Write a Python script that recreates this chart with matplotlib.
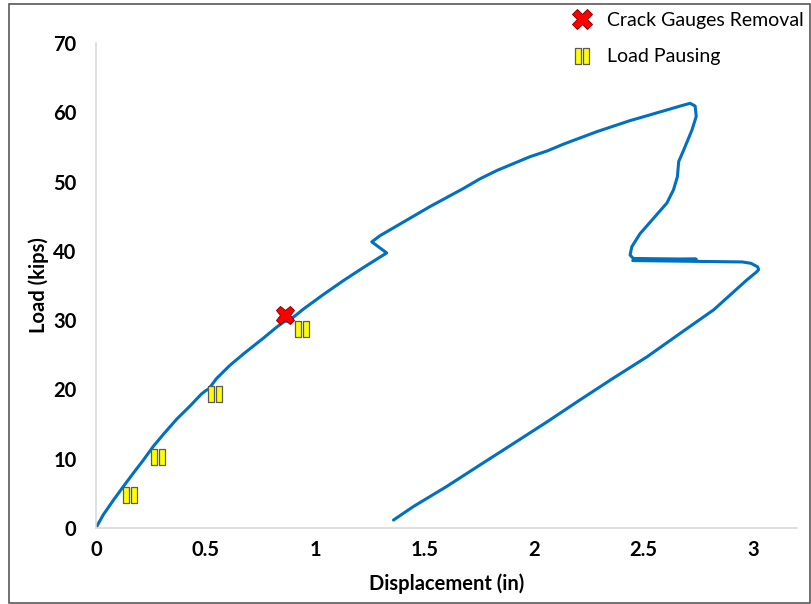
import matplotlib
matplotlib.use("Agg")
import matplotlib.pyplot as plt
from matplotlib.path import Path
from matplotlib.patches import Rectangle
from matplotlib.lines import Line2D

# ---- data ----
disp = [0.0, 0.003, 0.033, 0.079, 0.125, 0.170, 0.216, 0.262, 0.307, 0.368, 0.429,
        0.480, 0.500, 0.515, 0.551, 0.612, 0.680, 0.764, 0.825, 0.860, 0.880, 0.900,
        0.947, 1.038, 1.129, 1.221, 1.327, 1.259, 1.297, 1.373, 1.449, 1.525,
        1.601, 1.677, 1.753, 1.830, 1.906, 1.982, 2.058, 2.134, 2.210, 2.286,
        2.362, 2.438, 2.515, 2.591, 2.667, 2.712, 2.735, 2.740, 2.720, 2.682,
        2.660, 2.654, 2.636, 2.606, 2.545, 2.484, 2.446, 2.438, 2.453,
        2.740, 2.450, 2.950, 2.990, 3.020, 3.025, 3.017, 2.971, 2.820, 2.667,
        2.515, 2.360, 2.210, 2.058, 1.906, 1.753, 1.601, 1.449, 1.358]
load = [0.0, 0.2, 1.9, 4.0, 6.0, 7.9, 9.8, 11.8, 13.5, 15.7, 17.6,
        19.3, 19.8, 20.1, 21.6, 23.5, 25.3, 27.4, 29.0, 29.8, 29.9, 30.4,
        31.6, 33.7, 35.7, 37.6, 39.7, 41.3, 42.2, 43.6, 45.0, 46.4,
        47.7, 49.0, 50.4, 51.6, 52.6, 53.6, 54.4, 55.4, 56.3, 57.2,
        58.0, 58.8, 59.5, 60.2, 60.9, 61.3, 60.9, 59.4, 57.4, 54.5,
        52.9, 50.7, 48.8, 46.9, 44.7, 42.5, 40.6, 39.4, 38.9,
        38.8, 38.6, 38.4, 38.2, 37.7, 37.3, 37.0, 35.8, 31.5, 28.1,
        24.7, 21.6, 18.5, 15.3, 12.2, 9.1, 6.0, 3.1, 1.15]

crack_x = [0.863]
crack_y = [30.7]

pause_x = [0.155, 0.283, 0.543, 0.941]
pause_y = [4.76, 10.2, 19.3, 28.7]

xticks = [0, 0.5, 1, 1.5, 2, 2.5, 3]
xtick_labels = ["0", "0.5", "1", "1.5", "2", "2.5", "3"]
yticks = [0, 10, 20, 30, 40, 50, 60, 70]
ytick_labels = ["0", "10", "20", "30", "40", "50", "60", "70"]

labels = ["Crack Gauges Removal", "Load Pausing"]

# ---- styling ----
plt.rcParams['font.family'] = ['Lato', 'DejaVu Sans']
W, H = 812, 604
fig = plt.figure(figsize=(W / 100, H / 100), dpi=100)
ax = fig.add_axes([96 / W, 1 - 528 / H, (797 - 96) / W, (528 - 43) / H])

blue = '#0070C0'
ax.plot(disp, load, color=blue, lw=2.2, solid_joinstyle='round',
        solid_capstyle='round', zorder=2)

# pause marker: two upright rectangles
verts = [(-0.9, -1), (-0.15, -1), (-0.15, 1), (-0.9, 1), (-0.9, -1),
         (0.15, -1), (0.9, -1), (0.9, 1), (0.15, 1), (0.15, -1)]
codes = [Path.MOVETO, Path.LINETO, Path.LINETO, Path.LINETO, Path.CLOSEPOLY] * 2
pause_marker = Path(verts, codes)

ax.plot(pause_x, pause_y, ls='none', marker=pause_marker, ms=11,
        mfc='#FFFF00', mec='#5a5a5a', mew=0.9, zorder=3)
ax.plot(crack_x, crack_y, ls='none', marker='X', ms=13,
        mfc='#FF0000', mec='#8B0000', mew=0.7, zorder=4)

ax.set_xlim(0, 3.2)
ax.set_ylim(0, 70)
ax.set_xticks(xticks)
ax.set_xticklabels(xtick_labels, fontsize=14.5, fontweight='bold')
ax.set_yticks(yticks)
ax.set_yticklabels(ytick_labels, fontsize=14.5, fontweight='bold')
ax.tick_params(length=0)
ax.tick_params(axis='x', pad=9)
ax.tick_params(axis='y', pad=14)

for s in ['top', 'right']:
    ax.spines[s].set_visible(False)
for s in ['left', 'bottom']:
    ax.spines[s].set_color('#D9D9D9')
    ax.spines[s].set_linewidth(1.2)

ax.set_xlabel('Displacement (in)', fontsize=14.5, fontweight='bold', labelpad=9)
ax.set_ylabel('Load (kips)', fontsize=14.5, fontweight='bold', labelpad=3)

handles = [
    Line2D([], [], ls='none', marker='X', ms=14, mfc='#FF0000', mec='#8B0000', mew=0.7),
    Line2D([], [], ls='none', marker=pause_marker, ms=11, mfc='#FFFF00', mec='#5a5a5a', mew=0.9),
]
fig.legend(handles, labels, loc='upper left', bbox_to_anchor=(570 / W, 1 - 12 / H),
           frameon=False, fontsize=14, handlelength=1.2, handletextpad=0.69,
           labelspacing=1.0, borderpad=0, borderaxespad=0)

# outer border
fig.patches.append(Rectangle((9 / W, 1 / H), (810 - 9) / W, (601 - 2) / H,
                             transform=fig.transFigure, fill=False,
                             edgecolor='#595959', lw=1.2))

fig.savefig('out.png', dpi=100)
